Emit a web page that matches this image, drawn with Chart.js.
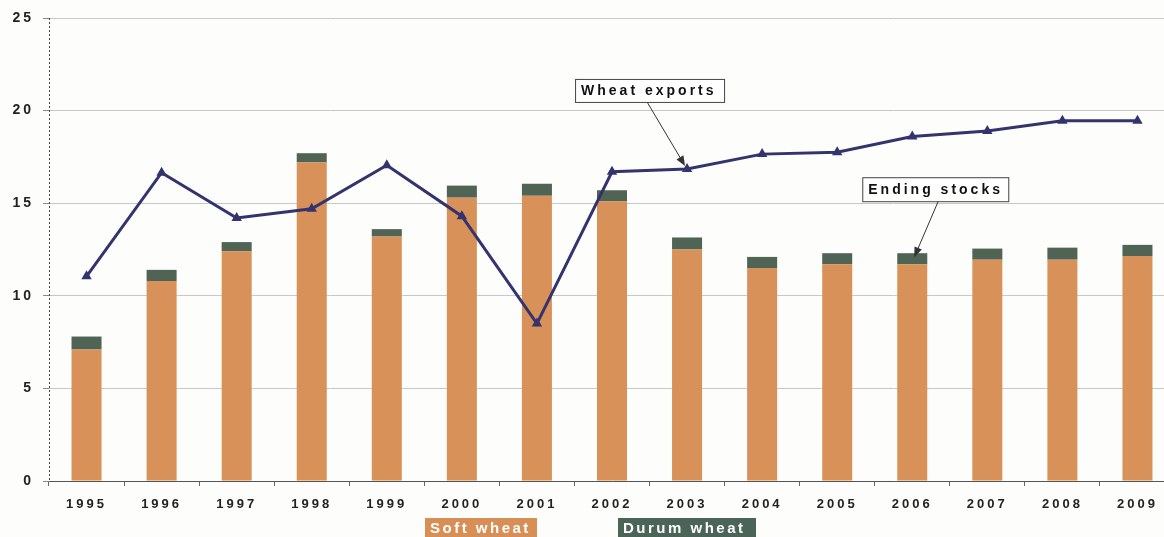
<!DOCTYPE html>
<html>
<head>
<meta charset="utf-8">
<script src="https://cdn.jsdelivr.net/npm/chart.js@4.4.1/dist/chart.umd.min.js"></script>
<style>
  html, body { margin: 0; padding: 0; overflow: hidden; background: #fdfdfb; }
  #wrap { width: 1190px; height: 537px; }
</style>
</head>
<body>
<div id="wrap"><canvas id="wheatChart" width="1190" height="537"></canvas></div>
<script>
const years = ['1995', '1996', '1997', '1998', '1999', '2000', '2001', '2002',
               '2003', '2004', '2005', '2006', '2007', '2008', '2009'];
const softWheat = [7.1, 10.8, 12.4, 17.2, 13.2, 15.3, 15.4, 15.1, 12.5, 11.5, 11.7, 11.7, 11.95, 11.95, 12.15];
const durumWheat = [0.7, 0.6, 0.5, 0.5, 0.4, 0.65, 0.65, 0.6, 0.65, 0.6, 0.6, 0.6, 0.6, 0.65, 0.6];
const wheatExports = [11.05, 16.65, 14.2, 14.7, 17.05, 14.3, 8.5, 16.7, 16.85, 17.65, 17.75, 18.6, 18.9, 19.45, 19.45];

const softColor = '#d89259';
const durumColor = '#4f6455';
const exportColor = '#33336e';

// spaced-out lettering used for the axis labels
const spacedText = {
    id: 'spacedText',
    beforeLayout(chart) { chart.ctx.letterSpacing = '3px'; },
    beforeDraw(chart) { chart.ctx.letterSpacing = '3px'; }
};

// dotted value axis line (v4 border.dash would dash the grid too)
const dottedAxis = {
    id: 'dottedAxis',
    beforeDatasetsDraw(chart) {
        const ctx = chart.ctx, a = chart.chartArea;
        ctx.save();
        ctx.strokeStyle = '#444';
        ctx.lineWidth = 1;
        ctx.setLineDash([2, 2]);
        ctx.beginPath();
        ctx.moveTo(a.left + 0.5, a.top);
        ctx.lineTo(a.left + 0.5, a.bottom);
        ctx.stroke();
        ctx.restore();
    }
};

function arrow(ctx, x1, y1, x2, y2) {
    const a = Math.atan2(y2 - y1, x2 - x1);
    ctx.beginPath();
    ctx.moveTo(x1, y1);
    ctx.lineTo(x2 - 6 * Math.cos(a), y2 - 6 * Math.sin(a));
    ctx.stroke();
    ctx.beginPath();
    ctx.moveTo(x2, y2);
    ctx.lineTo(x2 - 10 * Math.cos(a) + 4 * Math.sin(a), y2 - 10 * Math.sin(a) - 4 * Math.cos(a));
    ctx.lineTo(x2 - 10 * Math.cos(a) - 4 * Math.sin(a), y2 - 10 * Math.sin(a) + 4 * Math.cos(a));
    ctx.closePath();
    ctx.fill();
}

function callout(ctx, text, bx, by, bw, bh, fromX, tipX, tipY) {
    ctx.save();
    ctx.strokeStyle = '#333';
    ctx.fillStyle = '#333';
    ctx.lineWidth = 1;
    arrow(ctx, fromX, by + bh, tipX, tipY);
    ctx.fillStyle = '#fff';
    ctx.fillRect(bx, by, bw, bh);
    ctx.strokeStyle = '#444';
    ctx.strokeRect(bx + 0.5, by + 0.5, bw, bh);
    ctx.fillStyle = '#111';
    ctx.font = 'bold 14px "Liberation Sans", Arial, sans-serif';
    ctx.letterSpacing = '3px';
    ctx.textBaseline = 'middle';
    ctx.textAlign = 'left';
    ctx.fillText(text, bx + 6, by + bh / 2 + 1);
    ctx.restore();
}

// text callouts and the legend chips under the axis
const extras = {
    id: 'extras',
    afterDraw(chart) {
        const ctx = chart.ctx;
        const x = chart.scales.x, y = chart.scales.y;

        const ex = x.getPixelForValue(8), ey = y.getPixelForValue(wheatExports[8]);
        callout(ctx, 'Wheat exports', ex - 112, ey - 90, 149, 23, ex - 40, ex - 2, ey - 3);

        const sx = x.getPixelForValue(11), sy = y.getPixelForValue(softWheat[11] + durumWheat[11]);
        callout(ctx, 'Ending stocks', sx - 50, sy - 76, 146, 24, sx + 26, sx + 2, sy + 4);

        const chips = [
            { text: 'Soft wheat', color: '#d88f55', left: 425, width: 112 },
            { text: 'Durum wheat', color: '#4a6558', left: 618, width: 138 }
        ];
        ctx.save();
        ctx.font = 'bold 15px "Liberation Sans", Arial, sans-serif';
        ctx.letterSpacing = '2.5px';
        ctx.textBaseline = 'top';
        chips.forEach(c => {
            ctx.fillStyle = c.color;
            ctx.fillRect(c.left, 518, c.width, 22);
            ctx.fillStyle = '#fff';
            ctx.fillText(c.text, c.left + 5, 521);
        });
        ctx.restore();
    }
};

new Chart(document.getElementById('wheatChart'), {
    data: {
        labels: years,
        datasets: [{
            type: 'line',
            label: 'Wheat exports',
            data: wheatExports,
            borderColor: exportColor,
            backgroundColor: exportColor,
            borderWidth: 3,
            pointStyle: 'triangle',
            pointRadius: 3,
            tension: 0,
            order: 0
        }, {
            type: 'bar',
            label: 'Soft wheat',
            data: softWheat,
            backgroundColor: softColor,
            barPercentage: 0.4,
            categoryPercentage: 1,
            order: 1
        }, {
            type: 'bar',
            label: 'Durum wheat',
            data: durumWheat,
            backgroundColor: durumColor,
            barPercentage: 0.4,
            categoryPercentage: 1,
            order: 1
        }]
    },
    options: {
        responsive: false,
        animation: false,
        layout: { padding: { top: 18, right: 15, bottom: 0, left: 0 } },
        plugins: {
            legend: { display: false },
            title: { display: false },
            tooltip: { enabled: false }
        },
        scales: {
            x: {
                stacked: true,
                afterFit(scale) { scale.height = 56; },
                grid: { drawOnChartArea: false, drawTicks: true, tickLength: 5, color: '#666' },
                border: { color: '#555', width: 1 },
                ticks: {
                    color: '#222',
                    padding: 11,
                    maxRotation: 0,
                    font: { family: '"Liberation Sans", Arial, sans-serif', size: 13, weight: 'bold' }
                }
            },
            y: {
                stacked: true,
                min: 0,
                max: 25,
                afterFit(scale) { scale.width = 49; },
                grid: { color: '#c8c8c8', tickLength: 6, tickColor: '#888' },
                border: { display: false },
                ticks: {
                    stepSize: 5,
                    color: '#222',
                    padding: 9,
                    font: { family: '"Liberation Sans", Arial, sans-serif', size: 14, weight: 'bold' }
                }
            }
        }
    },
    plugins: [spacedText, dottedAxis, extras]
});
</script>
</body>
</html>
